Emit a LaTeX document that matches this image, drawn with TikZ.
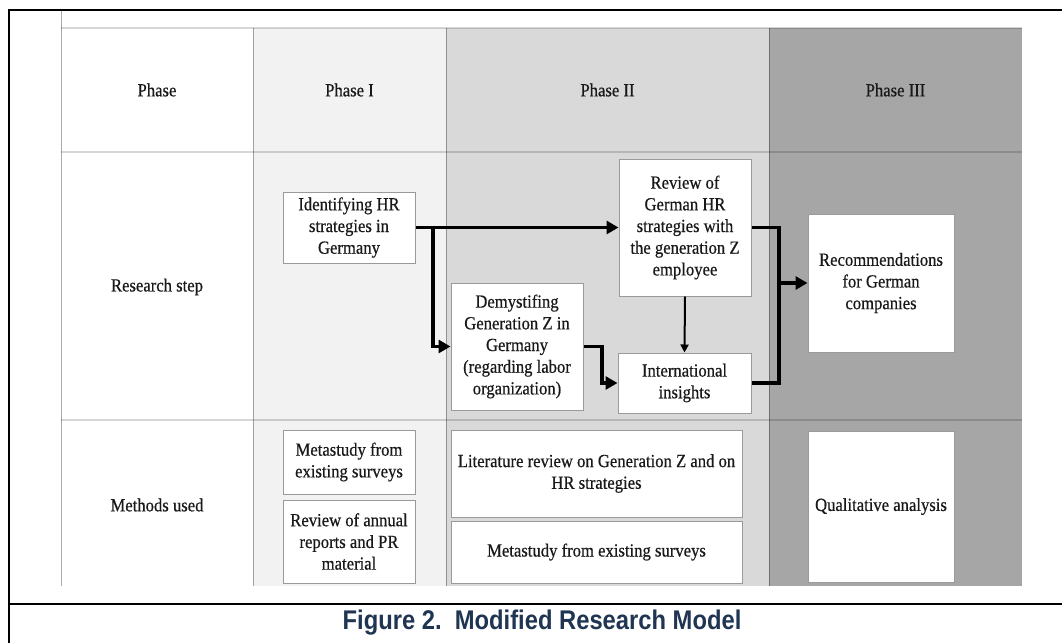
\documentclass[tikz,border=0pt]{standalone}
\usepackage{fontspec}
\setmainfont{Liberation Serif}[FakeStretch=0.9,FakeBold=0.5]
\newfontfamily\capfont{Liberation Sans}[FakeStretch=0.88]
\usetikzlibrary{arrows.meta}
\definecolor{colA}{HTML}{F2F2F2}
\definecolor{colB}{HTML}{D9D9D9}
\definecolor{colC}{HTML}{A6A6A6}
\definecolor{capcol}{HTML}{1F3552}
\definecolor{boxline}{HTML}{9A9A9A}
\begin{document}
\begin{tikzpicture}[x=1pt,y=-1pt,
  every node/.style={font=\fontsize{18.5}{21.7}\selectfont, inner sep=0pt, text=black!90},
  box/.style={draw=boxline, line width=1pt, fill=white, align=center},
  flow/.style={line width=3.8pt, -{Triangle[length=12pt,width=13pt]}},
  flowline/.style={line width=3.8pt},
  thinflow/.style={line width=2pt, -{Triangle[length=8pt,width=8pt]}},
  vline/.style={draw=black, draw opacity=0.33, line width=1pt},
  hline/.style={draw=black, draw opacity=0.16, line width=1.3pt},
  frame/.style={line width=2.5pt}]
\useasboundingbox (0,0) rectangle (1062,643);
\fill[white] (0,0) rectangle (1062,643);
% column fills
\fill[colA] (253,28) rectangle (446,586);
\fill[colB] (446,28) rectangle (769,586);
\fill[colC] (769,28) rectangle (1022,586);
% grid
\draw[hline] (61,28) -- (1022,28);
\draw[hline] (61,152) -- (1022,152);
\draw[hline] (61,420) -- (1022,420);
\draw[vline] (61,10) -- (61,586);
\draw[vline] (253,28) -- (253,586);
\draw[vline] (446,28) -- (446,586);
\draw[vline] (769,28) -- (769,586);
% frame
\draw[frame] (9,643) -- (9,10) -- (1062,10);
\draw[frame] (9,604) -- (1062,604);
% headers
\node (hPhase) at (157,90) {Phase};
\node (hI) at (349.5,90) {Phase I};
\node (hII) at (607.5,90) {Phase II};
\node (hIII) at (895.5,90) {Phase III};
\node (rs) at (157,287) {Research step};
\node (mu) at (157,505) {Methods used};
% research step boxes
\node[box, minimum width=132pt, minimum height=71pt] (ident) at (349,227.5) {Identifying HR\\strategies in\\Germany};
\node[box, minimum width=132pt, minimum height=137pt] (review) at (685,227.5) {Review of\\German HR\\strategies with\\the generation Z\\employee};
\node[box, minimum width=132pt, minimum height=127pt] (demyst) at (517,346.5) {Demystifing\\Generation Z in\\Germany\\(regarding labor\\organization)};
\node[box, minimum width=133pt, minimum height=60pt] (intl) at (684.5,383) {International\\insights};
\node[box, minimum width=146pt, minimum height=138pt] (rec) at (881,283) {Recommendations\\for German\\companies};
% methods boxes
\node[box, minimum width=132pt, minimum height=64pt] (m1) at (349,462) {Metastudy from\\existing surveys};
\node[box, minimum width=132pt, minimum height=83pt] (m2) at (349,541.5) {Review of annual\\reports and PR\\material};
\node[box, minimum width=291pt, minimum height=87pt] (lit) at (596.5,473.5) {Literature review on Generation Z and on\\HR strategies};
\node[box, minimum width=291pt, minimum height=62pt] (meta2) at (596.5,552) {Metastudy from existing surveys};
\node[box, minimum width=146pt, minimum height=151pt] (qual) at (881,506.5) {Qualitative analysis};
% connectors
\coordinate (br) at (433,227.5);
\coordinate (j1) at (602,383);
\coordinate (j2) at (779,283);
\draw[flow] (ident.east) -- (review.west);
\draw[flow] (br) |- (demyst.west);
\draw[flow] (demyst.east) -| (j1) -- (intl.west);
\draw[thinflow] (review.south) -- (intl.north);
\draw[flowline] (review.east) -| (j2) |- (intl.east);
\draw[flow] (j2) -- (rec.west);
% caption
\node[anchor=base, text=capcol, font=\capfont\bfseries\fontsize{27}{30}\selectfont] (cap) at (542,629) {Figure 2.~~Modified Research Model};
\end{tikzpicture}
\end{document}
